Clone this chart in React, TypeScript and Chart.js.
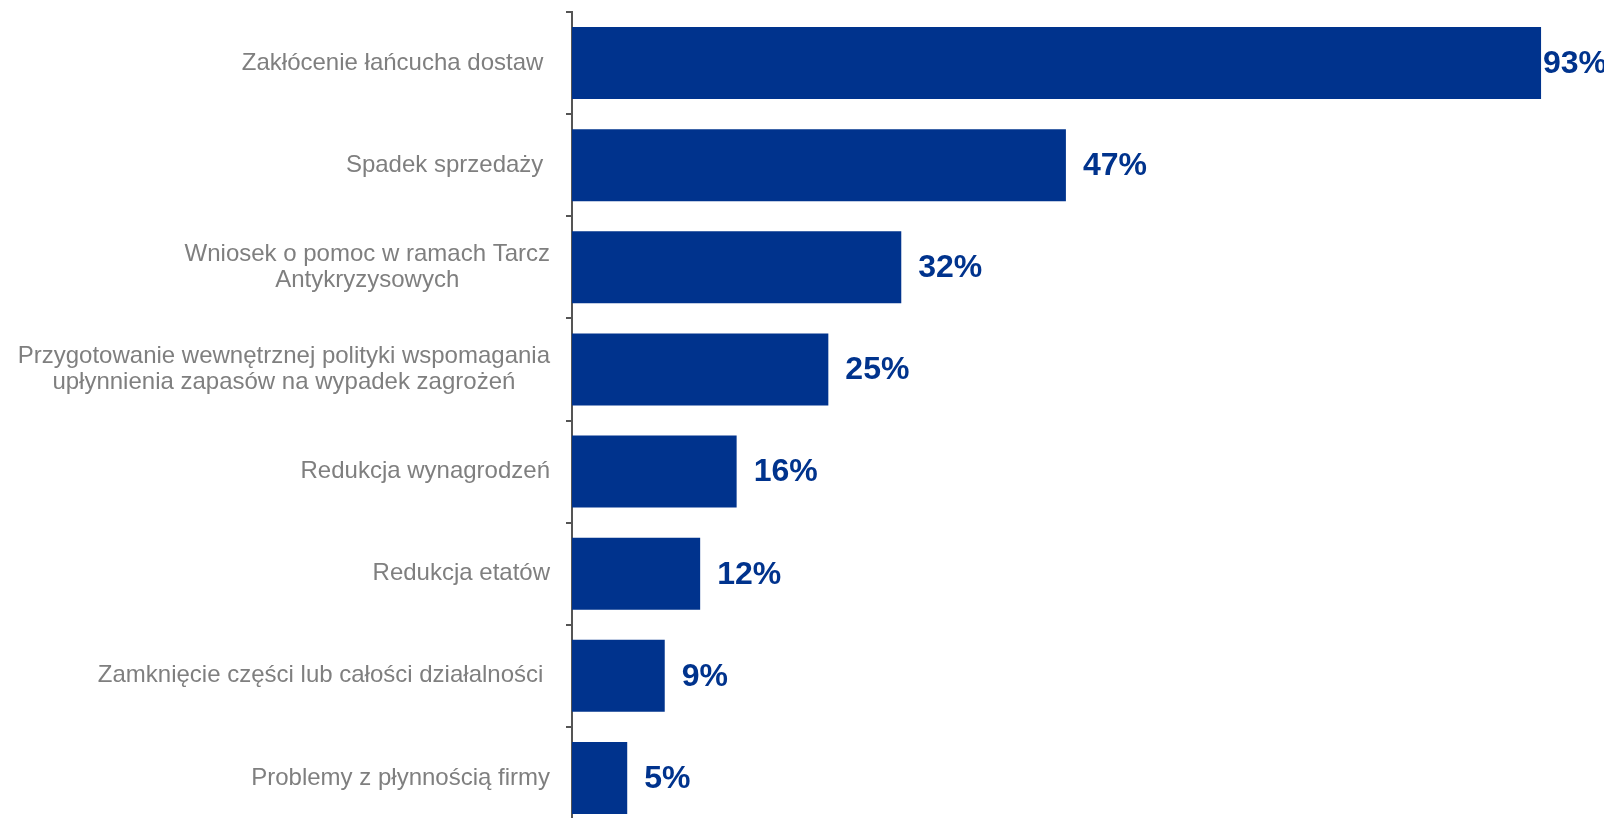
import React, { useEffect, useRef } from "react";
import { Chart, registerables } from "chart.js";

Chart.register(...registerables);

const categories: (string | string[])[] = [
  "Zakłócenie łańcucha dostaw ",
  "Spadek sprzedaży ",
  ["Wniosek o pomoc w ramach Tarcz", "Antykryzysowych"],
  ["Przygotowanie wewnętrznej polityki wspomagania", "upłynnienia zapasów na wypadek zagrożeń"],
  "Redukcja wynagrodzeń",
  "Redukcja etatów",
  "Zamknięcie części lub całości działalności ",
  "Problemy z płynnością firmy",
];

const values: number[] = [93, 47.4, 31.6, 24.6, 15.8, 12.3, 8.9, 5.3];
const valueLabels: string[] = ["93%", "47%", "32%", "25%", "16%", "12%", "9%", "5%"];

const BAR_COLOR = "#00338D";
const LABEL_COLOR = "#7F7F7F";
const AXIS_COLOR = "#555555";
const FONT = "'Liberation Sans', Arial, sans-serif";

const labelPlugin = {
  id: "customLabels",
  afterDraw(chart: any) {
    const ctx = chart.ctx;
    const area = chart.chartArea;
    const yScale = chart.scales.y;
    ctx.save();
    // category labels
    ctx.font = `24px ${FONT}`;
    ctx.fillStyle = LABEL_COLOR;
    ctx.textBaseline = "middle";
    ctx.textAlign = "center";
    const rightX = area.left - 22;
    const lh = 26;
    categories.forEach((lab, i) => {
      const lines = Array.isArray(lab) ? lab : [lab];
      const maxW = Math.max(...lines.map((l) => ctx.measureText(l).width));
      const cy = yScale.getPixelForValue(i);
      lines.forEach((l, j) => {
        const y = cy + (j - (lines.length - 1) / 2) * lh;
        ctx.fillText(l, rightX - maxW / 2, y);
      });
    });
    // value labels
    ctx.font = `bold 32px ${FONT}`;
    ctx.fillStyle = BAR_COLOR;
    ctx.textAlign = "left";
    const limit = 1599;
    const meta = chart.getDatasetMeta(0);
    meta.data.forEach((bar: any, i: number) => {
      const txt = valueLabels[i];
      const w = ctx.measureText(txt).width;
      const x = Math.min(bar.x + 17, limit - w);
      ctx.fillText(txt, x, bar.y + 1);
    });
    ctx.restore();
  },
};

export default function App() {
  const ref = useRef<HTMLCanvasElement | null>(null);
  useEffect(() => {
    if (!ref.current) return;
    const chart = new Chart(ref.current, {
      type: "bar",
      data: {
        labels: categories.map((c) => (Array.isArray(c) ? c.join(" ") : c)),
        datasets: [
          {
            data: values,
            backgroundColor: BAR_COLOR,
            barPercentage: 0.706,
            categoryPercentage: 1,
          },
        ],
      },
      options: {
        indexAxis: "y",
        responsive: false,
        animation: false,
        layout: { padding: { top: 4, bottom: 9, left: 0, right: 14 } },
        plugins: { legend: { display: false }, tooltip: { enabled: false } },
        scales: {
          x: { display: false, min: 0, max: 100 },
          y: {
            afterFit: (scale: any) => {
              scale.width = 564;
            },
            ticks: { display: false },
            grid: {
              drawOnChartArea: false,
              drawTicks: true,
              tickLength: 6,
              color: AXIS_COLOR,
              lineWidth: 2,
            },
            border: { display: true, color: AXIS_COLOR, width: 2 },
          },
        },
      },
      plugins: [labelPlugin],
    });
    return () => chart.destroy();
  }, []);
  return (
    <div style={{ width: 1604, height: 810, overflow: "hidden" }}>
      <canvas ref={ref} width={1620} height={830} style={{ display: "block" }} />
    </div>
  );
}
